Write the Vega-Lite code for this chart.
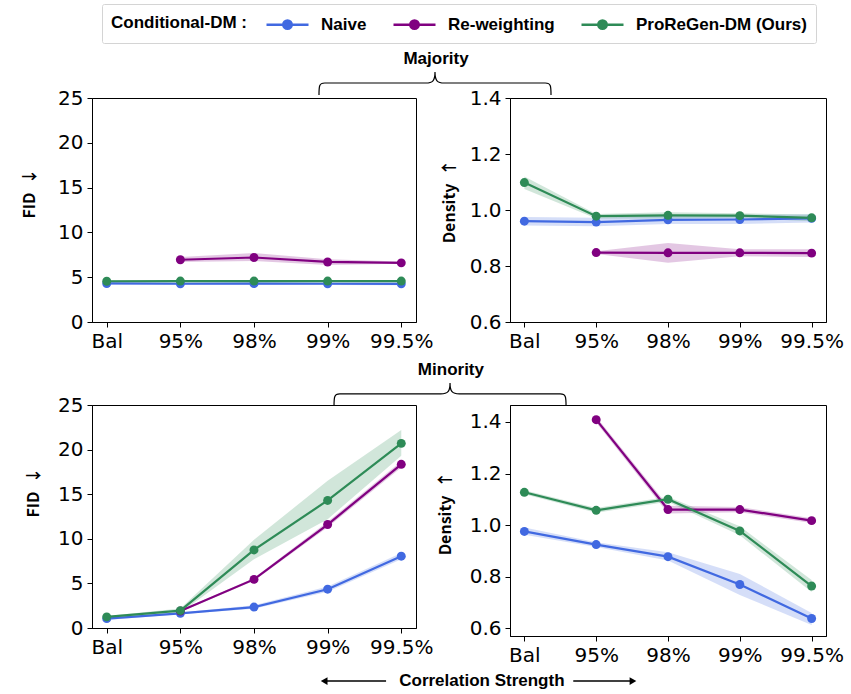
{
  "$schema": "https://vega.github.io/schema/vega-lite/v6.json",
  "padding": {"left": 21, "top": 3, "right": 5, "bottom": 0},
  "background": "white",
  "datasets": {
    "metrics": [
      {"panel": "maj_fid", "method": "Naive", "x": "Bal", "y": 4.3, "lo": 4.15, "hi": 4.45},
      {"panel": "maj_fid", "method": "Naive", "x": "95%", "y": 4.27, "lo": 4.12, "hi": 4.42},
      {"panel": "maj_fid", "method": "Naive", "x": "98%", "y": 4.28, "lo": 4.13, "hi": 4.43},
      {"panel": "maj_fid", "method": "Naive", "x": "99%", "y": 4.27, "lo": 4.12, "hi": 4.42},
      {"panel": "maj_fid", "method": "Naive", "x": "99.5%", "y": 4.26, "lo": 4.11, "hi": 4.41},
      {"panel": "maj_fid", "method": "Re-weighting", "x": "95%", "y": 6.95, "lo": 6.7, "hi": 7.25},
      {"panel": "maj_fid", "method": "Re-weighting", "x": "98%", "y": 7.2, "lo": 6.8, "hi": 7.7},
      {"panel": "maj_fid", "method": "Re-weighting", "x": "99%", "y": 6.7, "lo": 6.35, "hi": 7.0},
      {"panel": "maj_fid", "method": "Re-weighting", "x": "99.5%", "y": 6.6, "lo": 6.5, "hi": 6.75},
      {"panel": "maj_fid", "method": "ProReGen-DM (Ours)", "x": "Bal", "y": 4.55, "lo": 4.45, "hi": 4.65},
      {"panel": "maj_fid", "method": "ProReGen-DM (Ours)", "x": "95%", "y": 4.57, "lo": 4.47, "hi": 4.67},
      {"panel": "maj_fid", "method": "ProReGen-DM (Ours)", "x": "98%", "y": 4.57, "lo": 4.47, "hi": 4.67},
      {"panel": "maj_fid", "method": "ProReGen-DM (Ours)", "x": "99%", "y": 4.57, "lo": 4.47, "hi": 4.67},
      {"panel": "maj_fid", "method": "ProReGen-DM (Ours)", "x": "99.5%", "y": 4.57, "lo": 4.47, "hi": 4.67},

      {"panel": "maj_den", "method": "Naive", "x": "Bal", "y": 0.96, "lo": 0.945, "hi": 0.975},
      {"panel": "maj_den", "method": "Naive", "x": "95%", "y": 0.957, "lo": 0.942, "hi": 0.972},
      {"panel": "maj_den", "method": "Naive", "x": "98%", "y": 0.965, "lo": 0.95, "hi": 0.98},
      {"panel": "maj_den", "method": "Naive", "x": "99%", "y": 0.966, "lo": 0.95, "hi": 0.982},
      {"panel": "maj_den", "method": "Naive", "x": "99.5%", "y": 0.97, "lo": 0.955, "hi": 0.985},
      {"panel": "maj_den", "method": "Re-weighting", "x": "95%", "y": 0.848, "lo": 0.843, "hi": 0.853},
      {"panel": "maj_den", "method": "Re-weighting", "x": "98%", "y": 0.847, "lo": 0.812, "hi": 0.882},
      {"panel": "maj_den", "method": "Re-weighting", "x": "99%", "y": 0.847, "lo": 0.835, "hi": 0.86},
      {"panel": "maj_den", "method": "Re-weighting", "x": "99.5%", "y": 0.846, "lo": 0.832, "hi": 0.86},
      {"panel": "maj_den", "method": "ProReGen-DM (Ours)", "x": "Bal", "y": 1.098, "lo": 1.075, "hi": 1.12},
      {"panel": "maj_den", "method": "ProReGen-DM (Ours)", "x": "95%", "y": 0.978, "lo": 0.97, "hi": 0.986},
      {"panel": "maj_den", "method": "ProReGen-DM (Ours)", "x": "98%", "y": 0.981, "lo": 0.97, "hi": 0.992},
      {"panel": "maj_den", "method": "ProReGen-DM (Ours)", "x": "99%", "y": 0.98, "lo": 0.972, "hi": 0.988},
      {"panel": "maj_den", "method": "ProReGen-DM (Ours)", "x": "99.5%", "y": 0.972, "lo": 0.96, "hi": 0.984},

      {"panel": "min_fid", "method": "Naive", "x": "Bal", "y": 1.05, "lo": 0.9, "hi": 1.2},
      {"panel": "min_fid", "method": "Naive", "x": "95%", "y": 1.65, "lo": 1.55, "hi": 1.75},
      {"panel": "min_fid", "method": "Naive", "x": "98%", "y": 2.35, "lo": 2.15, "hi": 2.55},
      {"panel": "min_fid", "method": "Naive", "x": "99%", "y": 4.35, "lo": 4.05, "hi": 4.65},
      {"panel": "min_fid", "method": "Naive", "x": "99.5%", "y": 8.05, "lo": 7.7, "hi": 8.4},
      {"panel": "min_fid", "method": "Re-weighting", "x": "95%", "y": 1.9, "lo": 1.8, "hi": 2.0},
      {"panel": "min_fid", "method": "Re-weighting", "x": "98%", "y": 5.45, "lo": 5.3, "hi": 5.6},
      {"panel": "min_fid", "method": "Re-weighting", "x": "99%", "y": 11.6, "lo": 11.3, "hi": 11.9},
      {"panel": "min_fid", "method": "Re-weighting", "x": "99.5%", "y": 18.35, "lo": 18.0, "hi": 18.7},
      {"panel": "min_fid", "method": "ProReGen-DM (Ours)", "x": "Bal", "y": 1.25, "lo": 1.15, "hi": 1.35},
      {"panel": "min_fid", "method": "ProReGen-DM (Ours)", "x": "95%", "y": 1.95, "lo": 1.7, "hi": 2.2},
      {"panel": "min_fid", "method": "ProReGen-DM (Ours)", "x": "98%", "y": 8.75, "lo": 7.7, "hi": 9.9},
      {"panel": "min_fid", "method": "ProReGen-DM (Ours)", "x": "99%", "y": 14.3, "lo": 12.2, "hi": 16.5},
      {"panel": "min_fid", "method": "ProReGen-DM (Ours)", "x": "99.5%", "y": 20.7, "lo": 19.3, "hi": 22.2},

      {"panel": "min_den", "method": "Naive", "x": "Bal", "y": 0.975, "lo": 0.962, "hi": 0.99},
      {"panel": "min_den", "method": "Naive", "x": "95%", "y": 0.924, "lo": 0.915, "hi": 0.933},
      {"panel": "min_den", "method": "Naive", "x": "98%", "y": 0.877, "lo": 0.862, "hi": 0.894},
      {"panel": "min_den", "method": "Naive", "x": "99%", "y": 0.769, "lo": 0.728, "hi": 0.81},
      {"panel": "min_den", "method": "Naive", "x": "99.5%", "y": 0.637, "lo": 0.612, "hi": 0.658},
      {"panel": "min_den", "method": "Re-weighting", "x": "95%", "y": 1.409, "lo": 1.398, "hi": 1.42},
      {"panel": "min_den", "method": "Re-weighting", "x": "98%", "y": 1.06, "lo": 1.045, "hi": 1.075},
      {"panel": "min_den", "method": "Re-weighting", "x": "99%", "y": 1.06, "lo": 1.05, "hi": 1.07},
      {"panel": "min_den", "method": "Re-weighting", "x": "99.5%", "y": 1.017, "lo": 1.008, "hi": 1.026},
      {"panel": "min_den", "method": "ProReGen-DM (Ours)", "x": "Bal", "y": 1.127, "lo": 1.119, "hi": 1.135},
      {"panel": "min_den", "method": "ProReGen-DM (Ours)", "x": "95%", "y": 1.057, "lo": 1.048, "hi": 1.066},
      {"panel": "min_den", "method": "ProReGen-DM (Ours)", "x": "98%", "y": 1.1, "lo": 1.09, "hi": 1.11},
      {"panel": "min_den", "method": "ProReGen-DM (Ours)", "x": "99%", "y": 0.977, "lo": 0.96, "hi": 0.995},
      {"panel": "min_den", "method": "ProReGen-DM (Ours)", "x": "99.5%", "y": 0.763, "lo": 0.74, "hi": 0.786}
    ]
  },
  "data": {"name": "metrics"},
  "resolve": {"scale": {"color": "shared"}, "legend": {"color": "shared"}},
  "columns": 2,
  "bounds": "flush",
  "align": "each",
  "center": true,
  "spacing": {"row": 0, "column": 94},
  "concat": [
    {
      "width": 324,
      "height": 52,
      "view": {"stroke": null},
      "data": {"values": [{"label": "Majority"}]},
      "layer": [
        {
          "mark": {"type": "text", "font": "Liberation Sans", "fontSize": 17, "fontWeight": "bold", "color": "black"},
          "encoding": {
            "x": {"datum": 0.4668, "type": "quantitative", "scale": {"domain": [0, 1], "range": [0, 737], "nice": false}, "axis": null},
            "y": {"datum": 0.75, "type": "quantitative", "scale": {"domain": [0, 1], "nice": false}, "axis": null},
            "text": {"field": "label"}
          }
        },
        {
          "mark": {"type": "point", "shape": "M-1,0.103C-1,0.03,-1,0,-0.95,0L-0.08,0C-0.02,0,0,-0.02,0,-0.095C0,-0.02,0.02,0,0.08,0L0.95,0C1,0,1,0.03,1,0.103", "size": 53824, "filled": false, "stroke": "black", "strokeWidth": 1.2, "opacity": 1},
          "encoding": {
            "x": {"datum": 0.4654, "type": "quantitative", "scale": {"domain": [0, 1], "range": [0, 737], "nice": false}, "axis": null},
            "y": {"datum": 0.288, "type": "quantitative", "scale": {"domain": [0, 1], "nice": false}, "axis": null}
          }
        }
      ]
    },
    {
      "width": 1,
      "height": 1,
      "view": {"stroke": null},
      "data": {"values": [{"label": ""}]},
      "mark": {"type": "text"},
      "encoding": {"text": {"field": "label"}}
    },
    {
      "width": 324,
      "height": 224,
      "transform": [{"filter": "datum.panel === 'maj_fid'"}],
      "encoding": {
        "x": {"field": "x", "type": "ordinal", "scale": {"type": "point", "domain": ["Bal", "95%", "98%", "99%", "99.5%"], "padding": 0.2}, "axis": {"title": null, "labelAngle": 0}},
        "color": {
          "field": "method", "type": "nominal",
          "scale": {"domain": ["Naive", "Re-weighting", "ProReGen-DM (Ours)"], "range": ["#4169E1", "#800080", "#2E8B57"]},
          "legend": {
            "title": "Conditional-DM :", "orient": "none", "legendX": 10, "legendY": -42, "direction": "horizontal", "titleOrient": "left", "titleAnchor": "middle", "titleBaseline": "middle",
            "symbolType": "M-2.1,0L2.1,0M-0.42,0A0.42,0.42,0,1,1,0.42,0A0.42,0.42,0,1,1,-0.42,0Z", "symbolSize": 400, "symbolStrokeWidth": 2.5,
            "labelOffset": 22, "columnPadding": 21, "padding": 9, "strokeColor": "#d4d4d4", "fillColor": "white", "cornerRadius": 2,
            "labelFont": "Liberation Sans", "labelFontSize": 17, "labelFontWeight": "bold", "labelColor": "black", "labelLimit": 300,
            "titleFont": "Liberation Sans", "titleFontSize": 17, "titleFontWeight": "bold", "titleColor": "black", "titlePadding": 29,
            "encode": {"symbols": {"update": {"fill": {"scale": "color", "field": "value"}, "stroke": {"scale": "color", "field": "value"}, "opacity": {"value": 1}}}}
          }
        }
      },
      "layer": [
        {"mark": {"type": "area", "opacity": 0.22}, "encoding": {"y": {"field": "lo", "type": "quantitative", "scale": {"domain": [0, 25], "nice": false, "zero": false}, "axis": {"title": "FID\u2002↓", "values": [0, 5, 10, 15, 20, 25], "titlePadding": 20, "titleY": 95}}, "y2": {"field": "hi"}}},
        {"mark": {"type": "line", "strokeWidth": 2.2}, "encoding": {"y": {"field": "y", "type": "quantitative", "scale": {"domain": [0, 25], "nice": false, "zero": false}, "axis": {"title": "FID\u2002↓", "values": [0, 5, 10, 15, 20, 25], "titlePadding": 20, "titleY": 95}}}},
        {"mark": {"type": "point", "filled": true, "size": 80, "opacity": 1}, "encoding": {"y": {"field": "y", "type": "quantitative", "scale": {"domain": [0, 25], "nice": false, "zero": false}, "axis": {"title": "FID\u2002↓", "values": [0, 5, 10, 15, 20, 25], "titlePadding": 20, "titleY": 95}}}}
      ]
    },
    {
      "width": 316,
      "height": 224,
      "transform": [{"filter": "datum.panel === 'maj_den'"}],
      "encoding": {
        "x": {"field": "x", "type": "ordinal", "scale": {"type": "point", "domain": ["Bal", "95%", "98%", "99%", "99.5%"], "padding": 0.2}, "axis": {"title": null, "labelAngle": 0}},
        "color": {
          "field": "method", "type": "nominal",
          "scale": {"domain": ["Naive", "Re-weighting", "ProReGen-DM (Ours)"], "range": ["#4169E1", "#800080", "#2E8B57"]},
          "legend": {
            "title": "Conditional-DM :", "orient": "none", "legendX": 10, "legendY": -42, "direction": "horizontal", "titleOrient": "left", "titleAnchor": "middle", "titleBaseline": "middle",
            "symbolType": "M-2.1,0L2.1,0M-0.42,0A0.42,0.42,0,1,1,0.42,0A0.42,0.42,0,1,1,-0.42,0Z", "symbolSize": 400, "symbolStrokeWidth": 2.5,
            "labelOffset": 22, "columnPadding": 21, "padding": 9, "strokeColor": "#d4d4d4", "fillColor": "white", "cornerRadius": 2,
            "labelFont": "Liberation Sans", "labelFontSize": 17, "labelFontWeight": "bold", "labelColor": "black", "labelLimit": 300,
            "titleFont": "Liberation Sans", "titleFontSize": 17, "titleFontWeight": "bold", "titleColor": "black", "titlePadding": 29,
            "encode": {"symbols": {"update": {"fill": {"scale": "color", "field": "value"}, "stroke": {"scale": "color", "field": "value"}, "opacity": {"value": 1}}}}
          }
        }
      },
      "layer": [
        {"mark": {"type": "area", "opacity": 0.22}, "encoding": {"y": {"field": "lo", "type": "quantitative", "scale": {"domain": [0.6, 1.4], "nice": false, "zero": false}, "axis": {"title": "Density\u2002↑", "values": [0.6, 0.8, 1.0, 1.2, 1.4], "format": ".1f", "titlePadding": 12, "titleY": 103}}, "y2": {"field": "hi"}}},
        {"mark": {"type": "line", "strokeWidth": 2.2}, "encoding": {"y": {"field": "y", "type": "quantitative", "scale": {"domain": [0.6, 1.4], "nice": false, "zero": false}, "axis": {"title": "Density\u2002↑", "values": [0.6, 0.8, 1.0, 1.2, 1.4], "format": ".1f", "titlePadding": 12, "titleY": 103}}}},
        {"mark": {"type": "point", "filled": true, "size": 80, "opacity": 1}, "encoding": {"y": {"field": "y", "type": "quantitative", "scale": {"domain": [0.6, 1.4], "nice": false, "zero": false}, "axis": {"title": "Density\u2002↑", "values": [0.6, 0.8, 1.0, 1.2, 1.4], "format": ".1f", "titlePadding": 12, "titleY": 103}}}}
      ]
    },
    {
      "width": 324,
      "height": 83,
      "view": {"stroke": null},
      "data": {"values": [{"label": "Minority"}]},
      "layer": [
        {
          "mark": {"type": "text", "font": "Liberation Sans", "fontSize": 17, "fontWeight": "bold", "color": "black"},
          "encoding": {
            "x": {"datum": 0.487, "type": "quantitative", "scale": {"domain": [0, 1], "range": [0, 737], "nice": false}, "axis": null},
            "y": {"datum": 0.422, "type": "quantitative", "scale": {"domain": [0, 1], "nice": false}, "axis": null},
            "text": {"field": "label"}
          }
        },
        {
          "mark": {"type": "point", "shape": "M-1,0.103C-1,0.03,-1,0,-0.95,0L-0.08,0C-0.02,0,0,-0.02,0,-0.095C0,-0.02,0.02,0,0.08,0L0.95,0C1,0,1,0.03,1,0.103", "size": 53824, "filled": false, "stroke": "black", "strokeWidth": 1.2, "opacity": 1},
          "encoding": {
            "x": {"datum": 0.4858, "type": "quantitative", "scale": {"domain": [0, 1], "range": [0, 737], "nice": false}, "axis": null},
            "y": {"datum": 0.133, "type": "quantitative", "scale": {"domain": [0, 1], "nice": false}, "axis": null}
          }
        }
      ]
    },
    {
      "width": 1,
      "height": 1,
      "view": {"stroke": null},
      "data": {"values": [{"label": ""}]},
      "mark": {"type": "text"},
      "encoding": {"text": {"field": "label"}}
    },
    {
      "width": 324,
      "height": 223,
      "transform": [{"filter": "datum.panel === 'min_fid'"}],
      "encoding": {
        "x": {"field": "x", "type": "ordinal", "scale": {"type": "point", "domain": ["Bal", "95%", "98%", "99%", "99.5%"], "padding": 0.2}, "axis": {"title": null, "labelAngle": 0}},
        "color": {
          "field": "method", "type": "nominal",
          "scale": {"domain": ["Naive", "Re-weighting", "ProReGen-DM (Ours)"], "range": ["#4169E1", "#800080", "#2E8B57"]},
          "legend": {
            "title": "Conditional-DM :", "orient": "none", "legendX": 10, "legendY": -42, "direction": "horizontal", "titleOrient": "left", "titleAnchor": "middle", "titleBaseline": "middle",
            "symbolType": "M-2.1,0L2.1,0M-0.42,0A0.42,0.42,0,1,1,0.42,0A0.42,0.42,0,1,1,-0.42,0Z", "symbolSize": 400, "symbolStrokeWidth": 2.5,
            "labelOffset": 22, "columnPadding": 21, "padding": 9, "strokeColor": "#d4d4d4", "fillColor": "white", "cornerRadius": 2,
            "labelFont": "Liberation Sans", "labelFontSize": 17, "labelFontWeight": "bold", "labelColor": "black", "labelLimit": 300,
            "titleFont": "Liberation Sans", "titleFontSize": 17, "titleFontWeight": "bold", "titleColor": "black", "titlePadding": 29,
            "encode": {"symbols": {"update": {"fill": {"scale": "color", "field": "value"}, "stroke": {"scale": "color", "field": "value"}, "opacity": {"value": 1}}}}
          }
        }
      },
      "layer": [
        {"mark": {"type": "area", "opacity": 0.22}, "encoding": {"y": {"field": "lo", "type": "quantitative", "scale": {"domain": [0, 25], "nice": false, "zero": false}, "axis": {"title": "FID\u2002↓", "values": [0, 5, 10, 15, 20, 25], "titlePadding": 16, "titleY": 87}}, "y2": {"field": "hi"}}},
        {"mark": {"type": "line", "strokeWidth": 2.2}, "encoding": {"y": {"field": "y", "type": "quantitative", "scale": {"domain": [0, 25], "nice": false, "zero": false}, "axis": {"title": "FID\u2002↓", "values": [0, 5, 10, 15, 20, 25], "titlePadding": 16, "titleY": 87}}}},
        {"mark": {"type": "point", "filled": true, "size": 80, "opacity": 1}, "encoding": {"y": {"field": "y", "type": "quantitative", "scale": {"domain": [0, 25], "nice": false, "zero": false}, "axis": {"title": "FID\u2002↓", "values": [0, 5, 10, 15, 20, 25], "titlePadding": 16, "titleY": 87}}}}
      ]
    },
    {
      "width": 316,
      "height": 231,
      "transform": [{"filter": "datum.panel === 'min_den'"}],
      "encoding": {
        "x": {"field": "x", "type": "ordinal", "scale": {"type": "point", "domain": ["Bal", "95%", "98%", "99%", "99.5%"], "padding": 0.2}, "axis": {"title": null, "labelAngle": 0}},
        "color": {
          "field": "method", "type": "nominal",
          "scale": {"domain": ["Naive", "Re-weighting", "ProReGen-DM (Ours)"], "range": ["#4169E1", "#800080", "#2E8B57"]},
          "legend": {
            "title": "Conditional-DM :", "orient": "none", "legendX": 10, "legendY": -42, "direction": "horizontal", "titleOrient": "left", "titleAnchor": "middle", "titleBaseline": "middle",
            "symbolType": "M-2.1,0L2.1,0M-0.42,0A0.42,0.42,0,1,1,0.42,0A0.42,0.42,0,1,1,-0.42,0Z", "symbolSize": 400, "symbolStrokeWidth": 2.5,
            "labelOffset": 22, "columnPadding": 21, "padding": 9, "strokeColor": "#d4d4d4", "fillColor": "white", "cornerRadius": 2,
            "labelFont": "Liberation Sans", "labelFontSize": 17, "labelFontWeight": "bold", "labelColor": "black", "labelLimit": 300,
            "titleFont": "Liberation Sans", "titleFontSize": 17, "titleFontWeight": "bold", "titleColor": "black", "titlePadding": 29,
            "encode": {"symbols": {"update": {"fill": {"scale": "color", "field": "value"}, "stroke": {"scale": "color", "field": "value"}, "opacity": {"value": 1}}}}
          }
        }
      },
      "layer": [
        {"mark": {"type": "area", "opacity": 0.22}, "encoding": {"y": {"field": "lo", "type": "quantitative", "scale": {"domain": [0.569, 1.466], "nice": false, "zero": false}, "axis": {"title": "Density\u2002↑", "values": [0.6, 0.8, 1.0, 1.2, 1.4], "format": ".1f", "titlePadding": 16, "titleY": 108}}, "y2": {"field": "hi"}}},
        {"mark": {"type": "line", "strokeWidth": 2.2}, "encoding": {"y": {"field": "y", "type": "quantitative", "scale": {"domain": [0.569, 1.466], "nice": false, "zero": false}, "axis": {"title": "Density\u2002↑", "values": [0.6, 0.8, 1.0, 1.2, 1.4], "format": ".1f", "titlePadding": 16, "titleY": 108}}}},
        {"mark": {"type": "point", "filled": true, "size": 80, "opacity": 1}, "encoding": {"y": {"field": "y", "type": "quantitative", "scale": {"domain": [0.569, 1.466], "nice": false, "zero": false}, "axis": {"title": "Density\u2002↑", "values": [0.6, 0.8, 1.0, 1.2, 1.4], "format": ".1f", "titlePadding": 16, "titleY": 108}}}}
      ]
    },
    {
      "width": 324,
      "height": 59,
      "view": {"stroke": null},
      "data": {"values": [{"label": "Correlation Strength"}]},
      "layer": [
        {
          "mark": {"type": "text", "font": "Liberation Sans", "fontSize": 17, "fontWeight": "bold", "color": "black"},
          "encoding": {
            "x": {"datum": 0.529, "type": "quantitative", "scale": {"domain": [0, 1], "range": [0, 737], "nice": false}, "axis": null},
            "y": {"datum": 0.237, "type": "quantitative", "scale": {"domain": [0, 1], "nice": false}, "axis": null},
            "text": {"field": "label"}
          }
        },
        {
          "mark": {"type": "rule", "color": "black", "strokeWidth": 1.5},
          "encoding": {
            "x": {"datum": 0.315, "type": "quantitative", "scale": {"domain": [0, 1], "range": [0, 737], "nice": false}, "axis": null},
            "x2": {"datum": 0.399},
            "y": {"datum": 0.237, "type": "quantitative", "scale": {"domain": [0, 1], "nice": false}, "axis": null}
          }
        },
        {
          "mark": {"type": "rule", "color": "black", "strokeWidth": 1.5},
          "encoding": {
            "x": {"datum": 0.653, "type": "quantitative", "scale": {"domain": [0, 1], "range": [0, 737], "nice": false}, "axis": null},
            "x2": {"datum": 0.734},
            "y": {"datum": 0.237, "type": "quantitative", "scale": {"domain": [0, 1], "nice": false}, "axis": null}
          }
        },
        {
          "mark": {"type": "point", "shape": "triangle-left", "filled": true, "color": "black", "size": 60, "opacity": 1},
          "encoding": {
            "x": {"datum": 0.315, "type": "quantitative", "scale": {"domain": [0, 1], "range": [0, 737], "nice": false}, "axis": null},
            "y": {"datum": 0.237, "type": "quantitative", "scale": {"domain": [0, 1], "nice": false}, "axis": null}
          }
        },
        {
          "mark": {"type": "point", "shape": "triangle-right", "filled": true, "color": "black", "size": 60, "opacity": 1},
          "encoding": {
            "x": {"datum": 0.734, "type": "quantitative", "scale": {"domain": [0, 1], "range": [0, 737], "nice": false}, "axis": null},
            "y": {"datum": 0.237, "type": "quantitative", "scale": {"domain": [0, 1], "nice": false}, "axis": null}
          }
        }
      ]
    },
    {
      "width": 1,
      "height": 1,
      "view": {"stroke": null},
      "data": {"values": [{"label": ""}]},
      "mark": {"type": "text"},
      "encoding": {"text": {"field": "label"}}
    }
  ],
  "config": {
    "font": "DejaVu Sans",
    "view": {"stroke": "black", "strokeWidth": 1},
    "axis": {
      "grid": false,
      "domainColor": "black",
      "domainWidth": 1,
      "tickColor": "black",
      "tickSize": 5,
      "tickWidth": 1,
      "labelFont": "DejaVu Sans",
      "labelFontSize": 20,
      "labelColor": "black",
      "labelPadding": 4,
      "titleFont": "Noto Sans CJK JP",
      "titleFontSize": 16,
      "titleFontWeight": "bold",
      "titleColor": "black"
    }
  }
}
